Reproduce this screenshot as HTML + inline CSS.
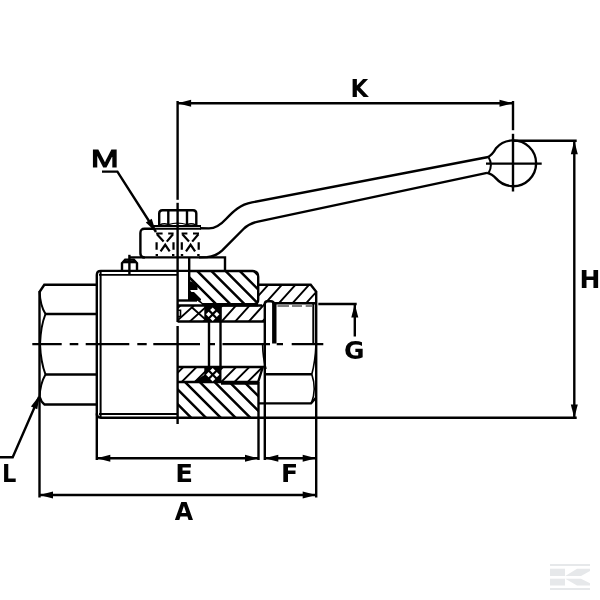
<!DOCTYPE html>
<html lang="en"><head><meta charset="utf-8"><title>Ball valve dimensions</title>
<style>
html,body{margin:0;padding:0;background:#fff;}
body{width:600px;height:600px;overflow:hidden;}
svg{display:block;}
text{font-family:"DejaVu Sans","Liberation Sans",Verdana,sans-serif;font-weight:700;font-size:25px;fill:#000;}
</style></head><body>
<svg width="600" height="600" viewBox="0 0 600 600">
<rect x="0" y="0" width="600" height="600" fill="#fff"/>
<defs>
<clipPath id="cUB"><path d="M189.2,271 L252.5,271 Q258.2,271 258.2,276.8 L258.2,299.5 Q258.2,304.3 253.5,304.3 L202,304.3 L197,300.5 L189.2,300.5 Z"/></clipPath>
<clipPath id="cLB"><path d="M177.8,383 L258.5,383 L258.5,413.5 Q258.5,417.7 254,417.7 L177.8,417.7 Z"/></clipPath>
<clipPath id="cCN"><path d="M259,284.8 L310.7,284.8 L316.2,291.7 L316.2,303.3 L272.6,303.3 L272.6,301.5 L264.8,301.5 L264.8,321.5 L221.5,321.5 L221.5,305.5 L258,305.5 L259,303 Z"/></clipPath>
<clipPath id="cSL"><path d="M178,305.5 L205,305.5 L205,321.5 L178,321.5 Z"/></clipPath>
<clipPath id="cLR"><path d="M178,367 L205,367 L205,382 L178,382 Z M221,367 L262.8,367 L258,382 L221,382 Z"/></clipPath>
</defs>

<g fill="#e6e8ea">
<rect x="550" y="564" width="40" height="2"/>
<rect x="550" y="588" width="40" height="2"/>
<rect x="550" y="568.7" width="15" height="7.3"/>
<rect x="550" y="578.7" width="15" height="6.8"/>
<path d="M565.3,576 L577,568.7 L590,568.7 L590,571 L581,576 Z"/>
<path d="M565.3,578.7 L581,578.7 L590,583.3 L590,585.5 L577,585.5 Z"/>
</g>

<g fill="none" stroke="#000" stroke-width="2.4" stroke-linecap="butt" stroke-linejoin="miter">
<path d="M96.8,284.8 L44.3,284.8 L39.5,292"/>
<path d="M96.8,404.5 L44.5,404.5 Q41,402 39.5,396.5"/>
<path d="M39.5,291 L39.5,497.5"/>
<path d="M45,314 L96.8,314"/>
<path d="M45,374.5 L96.8,374.5"/>
<path d="M39.7,292 Q40,305 45.5,314" stroke-width="2"/>
<path d="M39.7,396.5 Q40,384 45.5,374.5" stroke-width="2"/>
<path d="M45.5,314 Q40.7,326 40,344 Q40.7,362 45.5,374.5" stroke-width="2"/>

<path d="M189.2,270.9 L100.8,270.9 Q96.8,270.9 96.8,275 L96.8,460"/>
<path d="M96.8,413.6 Q96.8,417.7 100.8,417.7 L576.7,417.7"/>
<path d="M100.6,272 L100.6,417" stroke-width="2"/>
<path d="M99,274.9 L177.6,274.9" stroke-width="1.8"/>
<path d="M99,414 L177.6,414" stroke-width="1.8"/>

<path d="M122,270.5 L122,263.2 L125.2,259.6 L133.8,259.6 L137,263.2 L137,270.5"/>
<path d="M123.5,261.8 L135.5,261.8" stroke-width="3"/>
<path d="M129.4,254.8 L129.4,274.5"/>

<path d="M129.4,257.4 L225,257.4 L225,271"/>
<path d="M154,228.8 L144.8,228.8 Q140.4,228.6 140.4,233 L140.4,253 Q140.4,257.5 144.8,257.5"/>
<path d="M153,226.2 L201,226.2" stroke-width="2.3"/>
<path d="M153,228.9 L201,228.9" stroke-width="1.7"/>
<path d="M159.2,226 L159.2,213.5 Q159.2,210.2 162.5,210.2 L193,210.2 Q196.3,210.2 196.3,213.5 L196.3,226"/>
<path d="M168.3,211 L168.3,224"/>
<path d="M187,211 L187,224"/>
<path d="M159.5,225 Q164,222.6 168.3,224.6 Q177.6,221.6 187,224.6 Q191.5,222.6 196,225" stroke-width="1.4"/>

<path d="M200,228.2 L209,228.4 C216,228.4 221,224.5 226,219 C233,211.5 240,204.5 252,202.4 L487,157.3 Q492,155.6 496,148.2 A22.9,22.9 0 1 1 496,178.4 Q492,173.8 487,172.9"/>
<path d="M199,257.4 L207,257.1 C214,256.6 218,254.3 222,250.6 L243.5,229 C248,224.6 252,222.9 258,221.6 L487,172.9"/>
<path d="M488.6,157.3 Q493.2,165 488.6,172.9" stroke-width="2"/>
<path d="M486,163.6 L541.7,163.6"/>
<path d="M513,133.8 L513,191.5"/>
<path d="M513,101 L513,130.2"/>

<path d="M177.6,101 L177.6,199.8"/>
<path d="M177.6,202.8 L177.6,322"/>
<path d="M177.6,326 L177.6,424"/>
<path d="M189.2,257.5 L189.2,300.5"/>
<path d="M177.6,300.5 L197,300.5"/>

<g stroke-width="2.2">
<path d="M156.1,233.5 L162.6,233.5 M168.2,233.5 L173.6,233.5 M181.6,233.5 L187.4,233.5 M193,233.5 L199,233.5"/>
<path d="M157,234.3 L163.6,241.6 M173,234.3 L166.8,241.6 M182.4,234.3 L189,241.6 M198.4,234.3 L192.2,241.6"/>
<path d="M160.6,251.4 L165.2,244.8 L169.7,251.4 M186,251.4 L190.6,244.8 L195.1,251.4"/>
<path d="M156.6,242.3 L156.6,249.8 M198.7,242.3 L198.7,249.8 M173.5,242.3 L173.5,249.8 M181.8,242.3 L181.8,249.8"/>
<path d="M155.6,255 L158,255 M172,255 L174.4,255 M180.8,255 L183.2,255 M197.2,255 L199.6,255" stroke-width="2"/>
</g>

<path d="M189.2,271 L252.5,271 Q258.2,271 258.2,276.8 L258.2,299.5 Q258.2,304.3 253.5,304.3 L202,304.3"/>
<g clip-path="url(#cUB)" stroke-width="2.5"><path d="M-26.4,232.0 L85.6,344.0 M-12.2,232.0 L99.8,344.0 M2.0,232.0 L114.0,344.0 M16.2,232.0 L128.2,344.0 M30.4,232.0 L142.4,344.0 M44.6,232.0 L156.6,344.0 M58.8,232.0 L170.8,344.0 M73.0,232.0 L185.0,344.0 M87.2,232.0 L199.2,344.0 M101.4,232.0 L213.4,344.0 M115.6,232.0 L227.6,344.0 M129.8,232.0 L241.8,344.0 M144.0,232.0 L256.0,344.0 M158.2,232.0 L270.2,344.0 M172.4,232.0 L284.4,344.0 M186.6,232.0 L298.6,344.0 M200.8,232.0 L312.8,344.0 M215.0,232.0 L327.0,344.0 M229.2,232.0 L341.2,344.0 M243.4,232.0 L355.4,344.0 M257.6,232.0 L369.6,344.0 M271.8,232.0 L383.8,344.0 M286.0,232.0 L398.0,344.0 M300.2,232.0 L412.2,344.0 M314.4,232.0 L426.4,344.0 M328.6,232.0 L440.6,344.0 M342.8,232.0 L454.8,344.0 M357.0,232.0 L469.0,344.0 M371.2,232.0 L483.2,344.0 M385.4,232.0 L497.4,344.0 M399.6,232.0 L511.6,344.0 M413.8,232.0 L525.8,344.0 M428.0,232.0 L540.0,344.0 M442.2,232.0 L554.2,344.0 M456.4,232.0 L568.4,344.0 M470.6,232.0 L582.6,344.0 M484.8,232.0 L596.8,344.0 M499.0,232.0 L611.0,344.0 M513.2,232.0 L625.2,344.0 M527.4,232.0 L639.4,344.0 M541.6,232.0 L653.6,344.0 M555.8,232.0 L667.8,344.0"/></g>
<g fill="#000" stroke="none">
<path d="M190,281.5 L192,281.5 L197.5,286.5 L197.5,290 L190,290 Z"/>
<path d="M190,292 L194,292 L201,299 L201,300.5 L190,300.5 Z"/>
</g>
<path d="M259,284.8 L310.7,284.8 L316.2,291.7"/>
<path d="M316.2,291 L316.2,497.5"/>
<path d="M272.6,303.3 L316.2,303.3"/>
<path d="M177.6,305.5 L262,305.5"/>
<path d="M212,304.9 L258,304.9" stroke-width="3.4"/>
<path d="M177.6,321.5 L265,321.5"/>
<g clip-path="url(#cCN)" stroke-width="1.9"><path d="M195.3,245.0 L106.8,343.3 M208.9,245.0 L120.4,343.3 M222.5,245.0 L134.0,343.3 M236.1,245.0 L147.6,343.3 M249.7,245.0 L161.2,343.3 M263.3,245.0 L174.8,343.3 M276.9,245.0 L188.4,343.3 M290.5,245.0 L202.0,343.3 M304.1,245.0 L215.6,343.3 M317.7,245.0 L229.2,343.3 M331.3,245.0 L242.8,343.3 M344.9,245.0 L256.4,343.3 M358.5,245.0 L270.0,343.3 M372.1,245.0 L283.6,343.3 M385.7,245.0 L297.2,343.3 M399.3,245.0 L310.8,343.3 M412.9,245.0 L324.4,343.3 M426.5,245.0 L338.0,343.3 M440.1,245.0 L351.6,343.3 M453.7,245.0 L365.2,343.3 M467.3,245.0 L378.8,343.3 M480.9,245.0 L392.4,343.3 M494.5,245.0 L406.0,343.3 M508.1,245.0 L419.6,343.3 M521.7,245.0 L433.2,343.3 M535.3,245.0 L446.8,343.3 M548.9,245.0 L460.4,343.3 M562.5,245.0 L474.0,343.3 M576.1,245.0 L487.6,343.3 M589.7,245.0 L501.2,343.3 M603.3,245.0 L514.8,343.3 M616.9,245.0 L528.4,343.3 M630.5,245.0 L542.0,343.3 M644.1,245.0 L555.6,343.3 M657.7,245.0 L569.2,343.3 M671.3,245.0 L582.8,343.3 M684.9,245.0 L596.4,343.3 M698.5,245.0 L610.0,343.3 M712.1,245.0 L623.6,343.3 M725.7,245.0 L637.2,343.3 M739.3,245.0 L650.8,343.3 M752.9,245.0 L664.4,343.3"/></g>
<g clip-path="url(#cSL)" stroke-width="1.9"><path d="M75.4,266.0 L-28.0,360.0 M88.9,266.0 L-14.5,360.0 M102.4,266.0 L-1.0,360.0 M115.9,266.0 L12.5,360.0 M129.4,266.0 L26.0,360.0 M142.9,266.0 L39.5,360.0 M156.4,266.0 L53.0,360.0 M169.9,266.0 L66.5,360.0 M183.4,266.0 L80.0,360.0 M196.9,266.0 L93.5,360.0 M210.4,266.0 L107.0,360.0 M223.9,266.0 L120.5,360.0 M237.4,266.0 L134.0,360.0 M250.9,266.0 L147.5,360.0 M264.4,266.0 L161.0,360.0 M277.9,266.0 L174.5,360.0 M291.4,266.0 L188.0,360.0 M304.9,266.0 L201.5,360.0 M318.4,266.0 L215.0,360.0 M331.9,266.0 L228.5,360.0 M345.4,266.0 L242.0,360.0 M358.9,266.0 L255.5,360.0 M372.4,266.0 L269.0,360.0 M385.9,266.0 L282.5,360.0 M399.4,266.0 L296.0,360.0 M412.9,266.0 L309.5,360.0 M426.4,266.0 L323.0,360.0 M439.9,266.0 L336.5,360.0 M453.4,266.0 L350.0,360.0 M466.9,266.0 L363.5,360.0 M480.4,266.0 L377.0,360.0 M493.9,266.0 L390.5,360.0 M507.4,266.0 L404.0,360.0 M520.9,266.0 L417.5,360.0 M534.4,266.0 L431.0,360.0 M547.9,266.0 L444.5,360.0 M561.4,266.0 L458.0,360.0 M574.9,266.0 L471.5,360.0 M588.4,266.0 L485.0,360.0 M601.9,266.0 L498.5,360.0 M615.4,266.0 L512.0,360.0 M628.9,266.0 L525.5,360.0"/><path d="M191.5,307 L205,319"/></g>
<path d="M180.5,310.3 L177.6,310.3 M180.5,316.6 L177.6,316.6 M180.5,309.5 L180.5,317.4" stroke-width="1.6"/>
<rect x="204.3" y="305.5" width="17.5" height="16" fill="#000" stroke="none"/>
<g fill="#fff" stroke="none"><path d="M212.7,307.4 L215.29999999999998,310 L212.7,312.6 L210.1,310 Z"/><path d="M208.6,311.7 L211.2,314.3 L208.6,316.90000000000003 L206.0,314.3 Z"/><path d="M216.8,311.7 L219.4,314.3 L216.8,316.90000000000003 L214.20000000000002,314.3 Z"/><path d="M212.7,315.9 L215.29999999999998,318.5 L212.7,321.1 L210.1,318.5 Z"/></g>
<path d="M264.8,460 L264.8,304 Q264.8,301.3 267.5,301.3 L271,301.3 Q273.5,301.3 274.3,304"/>
<path d="M274.3,302.8 L274.3,343.5" stroke-width="4.4"/>
<path d="M313.3,304 L313.3,344" stroke-width="2"/>
<path d="M277.5,306 L289,306 M292,306 L302,306 M305.7,306 L313,306" stroke-width="1.4" stroke="#555"/>

<path d="M209,321.5 L209,367" stroke-width="2.4"/>
<path d="M220.5,321.5 L220.5,367"/>

<path d="M177.6,367 L262.8,367 L258,382.5"/>
<path d="M177.6,382 L258.3,382"/>
<path d="M221,383 L258.3,383" stroke-width="3.6"/>
<path d="M258.5,382 L258.5,460"/>
<g clip-path="url(#cLR)" stroke-width="1.9"><path d="M117.8,327.0 L23.1,421.7 M131.0,327.0 L36.3,421.7 M144.2,327.0 L49.5,421.7 M157.4,327.0 L62.7,421.7 M170.6,327.0 L75.9,421.7 M183.8,327.0 L89.1,421.7 M197.0,327.0 L102.3,421.7 M210.2,327.0 L115.5,421.7 M223.4,327.0 L128.7,421.7 M236.6,327.0 L141.9,421.7 M249.8,327.0 L155.1,421.7 M263.0,327.0 L168.3,421.7 M276.2,327.0 L181.5,421.7 M289.4,327.0 L194.7,421.7 M302.6,327.0 L207.9,421.7 M315.8,327.0 L221.1,421.7 M329.0,327.0 L234.3,421.7 M342.2,327.0 L247.5,421.7 M355.4,327.0 L260.7,421.7 M368.6,327.0 L273.9,421.7 M381.8,327.0 L287.1,421.7 M395.0,327.0 L300.3,421.7 M408.2,327.0 L313.5,421.7 M421.4,327.0 L326.7,421.7 M434.6,327.0 L339.9,421.7 M447.8,327.0 L353.1,421.7 M461.0,327.0 L366.3,421.7 M474.2,327.0 L379.5,421.7 M487.4,327.0 L392.7,421.7 M500.6,327.0 L405.9,421.7 M513.8,327.0 L419.1,421.7 M527.0,327.0 L432.3,421.7 M540.2,327.0 L445.5,421.7 M553.4,327.0 L458.7,421.7 M566.6,327.0 L471.9,421.7 M579.8,327.0 L485.1,421.7 M593.0,327.0 L498.3,421.7 M606.2,327.0 L511.5,421.7 M619.4,327.0 L524.7,421.7 M632.6,327.0 L537.9,421.7 M645.8,327.0 L551.1,421.7 M659.0,327.0 L564.3,421.7"/></g>
<path d="M193,382 L205,374.5 L205,382 Z" fill="#000" stroke="none"/>
<g clip-path="url(#cLB)" stroke-width="2.5"><path d="M-46.1,343.3 L68.1,457.5 M-31.3,343.3 L82.9,457.5 M-16.5,343.3 L97.7,457.5 M-1.7,343.3 L112.5,457.5 M13.1,343.3 L127.3,457.5 M27.9,343.3 L142.1,457.5 M42.7,343.3 L156.9,457.5 M57.5,343.3 L171.7,457.5 M72.3,343.3 L186.5,457.5 M87.1,343.3 L201.3,457.5 M101.9,343.3 L216.1,457.5 M116.7,343.3 L230.9,457.5 M131.5,343.3 L245.7,457.5 M146.3,343.3 L260.5,457.5 M161.1,343.3 L275.3,457.5 M175.9,343.3 L290.1,457.5 M190.7,343.3 L304.9,457.5 M205.5,343.3 L319.7,457.5 M220.3,343.3 L334.5,457.5 M235.1,343.3 L349.3,457.5 M249.9,343.3 L364.1,457.5 M264.7,343.3 L378.9,457.5 M279.5,343.3 L393.7,457.5 M294.3,343.3 L408.5,457.5 M309.1,343.3 L423.3,457.5 M323.9,343.3 L438.1,457.5 M338.7,343.3 L452.9,457.5 M353.5,343.3 L467.7,457.5 M368.3,343.3 L482.5,457.5 M383.1,343.3 L497.3,457.5 M397.9,343.3 L512.1,457.5 M412.7,343.3 L526.9,457.5 M427.5,343.3 L541.7,457.5 M442.3,343.3 L556.5,457.5 M457.1,343.3 L571.3,457.5 M471.9,343.3 L586.1,457.5 M486.7,343.3 L600.9,457.5 M501.5,343.3 L615.7,457.5 M516.3,343.3 L630.5,457.5 M531.1,343.3 L645.3,457.5 M545.9,343.3 L660.1,457.5 M560.7,343.3 L674.9,457.5"/></g>
<rect x="204.3" y="367" width="17.2" height="15.5" fill="#000" stroke="none"/>
<g fill="#fff" stroke="none"><path d="M212.7,367.9 L215.29999999999998,370.5 L212.7,373.1 L210.1,370.5 Z"/><path d="M208.6,372.09999999999997 L211.2,374.7 L208.6,377.3 L206.0,374.7 Z"/><path d="M216.8,372.09999999999997 L219.4,374.7 L216.8,377.3 L214.20000000000002,374.7 Z"/><path d="M212.7,376.29999999999995 L215.29999999999998,378.9 L212.7,381.5 L210.1,378.9 Z"/></g>
<path d="M259,403.4 L311,403.4 L316.2,397.5"/>
<path d="M266,374.3 L312,374.3"/>
<path d="M316,344 Q315.2,362 311.8,374.3" stroke-width="1.6"/>
<path d="M311.8,374.3 Q316.8,389 311.5,403" stroke-width="1.6"/>
<path d="M262.6,344 Q262.8,358 266,369" stroke-width="1.6"/>

<path d="M32.3,344.1 L61.7,344.1 M69.7,344.1 L78.3,344.1 M85.7,344.1 L129.3,344.1 M137.3,344.1 L146.7,344.1 M153.3,344.1 L200,344.1 M208,344.1 L215,344.1 M222.5,344.1 L270,344.1 M276.7,344.1 L283,344.1 M291.7,344.1 L323.3,344.1"/>
<path d="M177.6,103.3 L513,103.3"/>
<path d="M513,140.7 L576.7,140.7"/>
<path d="M574.3,141 L574.3,417.5"/>
<path d="M318.3,304 L356.7,304"/>
<path d="M354.8,304 L354.8,336.5"/>
<path d="M96.8,458.3 L258.5,458.3"/>
<path d="M265,458.3 L316.2,458.3"/>
<path d="M39.5,495 L316.2,495"/>
<path d="M0,457.3 L12.7,457.3 L39,397"/>
<path d="M102,171.6 L117.4,171.6 L156,232"/>

</g>
<g fill="#000" stroke="none">
<path d="M177.6,103.3 L191.1,99.8 L191.1,106.8 Z"/>
<path d="M513.0,103.3 L499.5,106.8 L499.5,99.8 Z"/>
<path d="M574.3,140.7 L577.8,154.2 L570.8,154.2 Z"/>
<path d="M574.3,418.0 L570.8,404.5 L577.8,404.5 Z"/>
<path d="M354.8,304.0 L358.3,317.5 L351.3,317.5 Z"/>
<path d="M96.8,458.3 L110.3,454.8 L110.3,461.8 Z"/>
<path d="M258.5,458.3 L245.0,461.8 L245.0,454.8 Z"/>
<path d="M264.8,458.3 L278.3,454.8 L278.3,461.8 Z"/>
<path d="M316.2,458.3 L302.7,461.8 L302.7,454.8 Z"/>
<path d="M39.5,495.0 L53.0,491.5 L53.0,498.5 Z"/>
<path d="M316.2,495.0 L302.7,498.5 L302.7,491.5 Z"/>
<path d="M39.5,395.5 L37.3,409.3 L30.9,406.5 Z"/>
<path d="M156.0,232.0 L145.8,222.5 L151.7,218.7 Z"/>
</g>
<g opacity="0.996">
<text transform="translate(359.3,96.9) scale(0.915,1)" x="0" y="0" text-anchor="middle">K</text>
<text transform="translate(104.9,166.8) scale(1.38,1)" x="0" y="0" text-anchor="middle" style="font-family:Liberation Sans,Arial,sans-serif;font-size:24px;font-weight:400" stroke="#000" stroke-width="1.15" stroke-linejoin="miter">M</text>
<text transform="translate(589.9,287.5) scale(1.0,1)" x="0" y="0" text-anchor="middle">H</text>
<text transform="translate(354.3,358.5) scale(1.0,1)" x="0" y="0" text-anchor="middle">G</text>
<text transform="translate(184,481.8) scale(1.04,1)" x="0" y="0" text-anchor="middle">E</text>
<text transform="translate(289.5,481.5) scale(1.0,1)" x="0" y="0" text-anchor="middle">F</text>
<text transform="translate(183.9,520.2) scale(0.95,1)" x="0" y="0" text-anchor="middle">A</text>
<text transform="translate(9.2,482.3) scale(0.9,1)" x="0" y="0" text-anchor="middle">L</text>
</g>
</svg></body></html>
